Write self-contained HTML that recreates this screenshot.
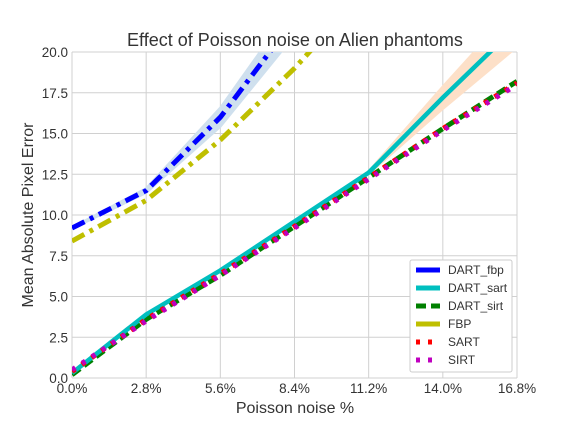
<!DOCTYPE html>
<html><head><meta charset="utf-8"><style>
body{margin:0;background:#fff}
svg text{font-family:"Liberation Sans",sans-serif;fill:#333}
</style></head><body>
<svg id="chart" width="576" height="432" xmlns="http://www.w3.org/2000/svg">
<defs><clipPath id="pc"><rect x="72" y="52" width="445" height="326"/></clipPath></defs>
<g id="grid"></g>
<g id="bands" clip-path="url(#pc)"></g>
<g id="lines" clip-path="url(#pc)"></g>
<g id="ticks"></g>
<text x="295" y="46" text-anchor="middle" font-size="18">Effect of Poisson noise on Alien phantoms</text>
<text x="295" y="413" text-anchor="middle" font-size="16">Poisson noise %</text>
<text transform="translate(33,215) rotate(-90)" text-anchor="middle" font-size="16">Mean Absolute Pixel Error</text>
<g id="legend"></g>
</svg>
<script>
const xVals=[0,2.8,5.6,8.4,11.2,14.0,16.8];
const xTickLabels=["0.0%","2.8%","5.6%","8.4%","11.2%","14.0%","16.8%"];
const yTicks=[0,2.5,5,7.5,10,12.5,15,17.5,20];
const dartFbp=[9.2,11.5,16.0,22.0,28,34,40];
const dartFbpSpread=[0.05,0.15,0.6,1.0,1.4,1.8,2.2];
const dartSart=[0.3,3.9,6.6,9.6,12.6,17.2,21.6];
const dartSartSpread=[0,0,0,0,0.1,0.7,1.3];
const dartSirt=[0.2,3.6,6.3,9.3,12.3,15.3,18.2];
const fbp=[8.4,10.9,14.6,19.0,24,29,34];
const sart=[0.4,3.6,6.4,9.3,12.3,15.3,18.1];
const sirt=[0.5,3.5,6.3,9.2,12.2,15.2,18.0];
const NS="http://www.w3.org/2000/svg";
const X=v=>72+v/16.8*445, Y=v=>378-v/20*326;
function mk(t,a,p){const e=document.createElementNS(NS,t);for(const k in a)e.setAttribute(k,a[k]);p.appendChild(e);return e;}
const grid=document.getElementById('grid'),ticks=document.getElementById('ticks');
xVals.forEach((v,i)=>{
 const l=mk('line',{x1:X(v),x2:X(v),y1:52,y2:378,stroke:'#d0d0d0','stroke-width':1},grid);
 
 
 const t=mk('text',{x:X(v),y:393,'text-anchor':'middle','font-size':13.5},ticks);t.textContent=xTickLabels[i];
 
 
});
yTicks.forEach(v=>{
 const l=mk('line',{x1:72,x2:517,y1:Y(v),y2:Y(v),stroke:'#d0d0d0','stroke-width':1},grid);
 
 
 const t=mk('text',{x:68,y:Y(v)+5,'text-anchor':'end','font-size':13.5},ticks);t.textContent=v.toFixed(1);
 
 
});
const bands=document.getElementById('bands');
function band(d,s,c,name){
 const up=xVals.map((x,i)=>X(x)+','+Y(d[i]+s[i]));
 const dn=xVals.map((x,i)=>X(x)+','+Y(d[i]-s[i])).reverse();
 const p=mk('polygon',{points:up.concat(dn).join(' '),fill:c,stroke:c,'stroke-width':2},bands);
 
 }
band(dartFbp,dartFbpSpread,'#cfe0ee','dart-fbp-band');
band(dartSart,dartSartSpread,'#fde0c8','dart-sart-band');
const series=[
 [dartSirt,'#008000',5,'10 5','dart-sirt-line'],
 [dartSart,'#00bfbf',4.5,'','dart-sart-line'],
 [fbp,'#bfbf00',5,'14 6 4 6','fbp-line'],
 [dartFbp,'#0000ff',5,'14 6 4 6','dart-fbp-line'],
 [sart,'#ff0000',5,'4 8','sart-line'],
 [sirt,'#bf00bf',5,'4 8','sirt-line']];
const lines=document.getElementById('lines');
series.forEach(s=>{const p=mk('polyline',{points:xVals.map((x,i)=>X(x)+','+Y(s[0][i])).join(' '),fill:'none',stroke:s[1],'stroke-width':s[2],'stroke-dasharray':s[3]},lines);
 
 });
const lg=document.getElementById('legend');
mk('rect',{x:410,y:260,width:102,height:112,fill:'#fff',stroke:'#ccc',rx:2},lg);
const order=[
 ['#0000ff','','DART_fbp'],['#00bfbf','','DART_sart'],['#008000','10 5','DART_sirt'],
 ['#bfbf00','','FBP'],['#ff0000','4 8','SART'],['#bf00bf','4 8','SIRT']];
order.forEach((o,i)=>{const y=270+i*18;
 const l=mk('line',{x1:416,x2:440,y1:y,y2:y,stroke:o[0],'stroke-width':5,'stroke-dasharray':o[1]},lg);
 
 
 const t=mk('text',{x:448,y:y+4,'font-size':12},lg);t.textContent=o[2];
 
 });
</script>
</body></html>
